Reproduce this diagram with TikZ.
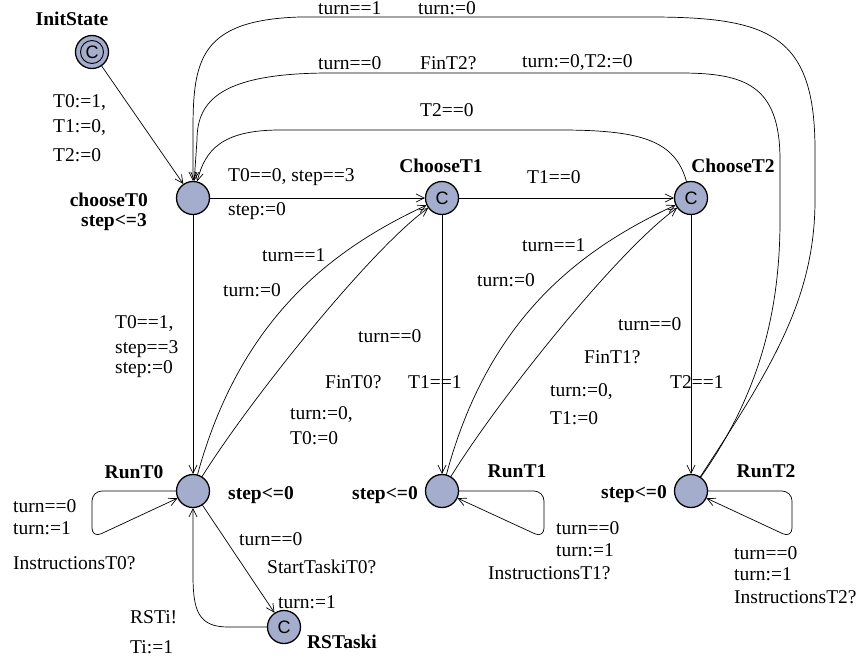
\documentclass[tikz,border=0pt]{standalone}
\usepackage{fontspec}
\setmainfont{Liberation Serif}
\setsansfont{Liberation Sans}
\usepackage{tikz}
\usetikzlibrary{arrows.meta}
\definecolor{uaFill}{HTML}{A5ADCD}
\definecolor{uaInk}{HTML}{000000}
\tikzset{
  ua diagram/.style={x=1pt, y=-1pt, draw=uaInk, text=uaInk,
    font=\fontsize{19.5}{22}\selectfont, line cap=round, line join=round},
  ua state/.style={circle, draw=uaInk, fill=uaFill, line width=1.3pt,
    minimum size=33pt, inner sep=0pt},
  ua committed/.style={ua state, font=\sffamily\fontsize{18}{18}\selectfont},
  ua edge/.style={-{Straight Barb[length=8pt,width=8pt]}, draw=uaInk, line width=0.7pt},
  ua name/.style={font=\fontsize{19.5}{22}\selectfont\bfseries, inner sep=0pt},
  ua label/.style={anchor=west, inner sep=0pt}
}
\begin{document}
\begin{tikzpicture}[ua diagram]
\useasboundingbox (0,0) rectangle (861,661);
% locations
\node[ua committed] (InitState) at (92,52) {C};
\draw[line width=0.9pt] (InitState.center) circle (11.5pt);
\node[ua state] (chooseT0) at (193,198) {};
\node[ua committed] (ChooseT1) at (442,198) {C};
\node[ua committed] (ChooseT2) at (691,198) {C};
\node[ua state] (RunT0) at (193,491) {};
\node[ua state] (RunT1) at (442,491) {};
\node[ua state] (RunT2) at (691,491) {};
\node[ua committed] (RSTaski) at (284,627) {C};
% names and invariants
\node[ua name] (InitStateName) at (72,19) {InitState};
\node[ua name,anchor=east] (chooseT0Name) at (148,200) {chooseT0};
\node[ua name,anchor=east] (chooseT0Inv) at (147,222) {step<=3};
\node[ua name] (ChooseT1Name) at (441,166) {ChooseT1};
\node[ua name] (ChooseT2Name) at (733,166) {ChooseT2};
\node[ua name] (RunT0Name) at (134,472) {RunT0};
\node[ua name] (RunT1Name) at (517,471) {RunT1};
\node[ua name] (RunT2Name) at (766,471) {RunT2};
\node[ua name] (RunT0Inv) at (261,495) {step<=0};
\node[ua name] (RunT1Inv) at (385,495) {step<=0};
\node[ua name] (RunT2Inv) at (634,494) {step<=0};
\node[ua name] (RSTaskiName) at (342,642) {RSTaski};
% straight edges
\draw[ua edge] (InitState) -- (chooseT0);
\draw[ua edge] (chooseT0) -- (ChooseT1);
\draw[ua edge] (ChooseT1) -- (ChooseT2);
\draw[ua edge] (chooseT0) -- (RunT0);
\draw[ua edge] (ChooseT1) -- (RunT1);
\draw[ua edge] (ChooseT2) -- (RunT2);
\draw[ua edge] (RunT0) -- (RSTaski);
\draw[ua edge] (RSTaski.west) -- (228,627) .. controls (198,627) and (193,610) .. (193,575) -- (RunT0);
% back to chooseT0 over the top
\draw[ua edge] (RunT2) .. controls (770,370) and (815,300) .. (815,200)
  -- (815,150) .. controls (815,35) and (770,17) .. (650,17)
  -- (300,17) .. controls (200,20) and (193,60) .. (193,130) -- (chooseT0);
\draw[ua edge] (RunT2) .. controls (755,400) and (780,320) .. (780,220)
  -- (780,160) .. controls (780,85) and (745,73) .. (680,73)
  -- (330,73) .. controls (222,73) and (197,100) .. (197,140) -- (chooseT0);
\draw[ua edge] (ChooseT2) .. controls (675,140) and (640,130) .. (560,130)
  -- (280,130) .. controls (222,130) and (205,150) .. (chooseT0);
% run -> next choose
\foreach \run/\choose/\dx in {RunT0/ChooseT1/0,RunT1/ChooseT2/248}{
  \begin{scope}[xshift=\dx]
  \draw[ua edge] (\run) .. controls (240,320) and (330,250) .. (\choose);
  \draw[ua edge] (\run) .. controls (250,400) and (370,250) .. (\choose);
  \end{scope}
}
% self loops
\draw[ua edge,rounded corners=10pt] (RunT0.west) -- (92,491) -- (92,538) -- (RunT0);
\draw[ua edge,rounded corners=10pt] (RunT1.east) -- (544,491) -- (544,538) -- (RunT1);
\draw[ua edge,rounded corners=10pt] (RunT2.east) -- (792,491) -- (792,538) -- (RunT2);
% guards, syncs and updates
\foreach \x/\y/\txt [count=\i] in {
  53/103/{T0:=1,}, 53/128/{T1:=0,}, 53/155/{T2:=0},
  318/8/{turn==1}, 418/8/{turn:=0},
  318/63/{turn==0}, 420/63/{FinT2?}, 522/63/{turn:=0,T2:=0},
  420/110/{T2==0},
  228/177/{T0==0, step==3}, 228/211/{step:=0}, 527/177/{T1==0},
  115/324/{T0==1,}, 115/349/{step==3}, 115/369/{step:=0},
  262/255/{turn==1}, 223/290/{turn:=0},
  358/336/{turn==0}, 325/382/{FinT0?}, 290/415/{turn:=0,}, 290/438/{T0:=0},
  408/382/{T1==1},
  522/245/{turn==1}, 477/280/{turn:=0},
  618/324/{turn==0}, 584/357/{FinT1?}, 550/392/{turn:=0,}, 550/418/{T1:=0},
  670/382/{T2==1},
  13/506/{turn==0}, 13/528/{turn:=1}, 13/563/{InstructionsT0?},
  239/539/{turn==0}, 267/567/{StartTaskiT0?}, 278/602/{turn:=1},
  130/617/{RSTi!}, 130/647/{Ti:=1},
  556/528/{turn==0}, 556/550/{turn:=1}, 488/573/{InstructionsT1?},
  734/553/{turn==0}, 734/574/{turn:=1}, 734/597/{InstructionsT2?}}
  \node[ua label] (lbl\i) at (\x,\y) {\txt};
\end{tikzpicture}
\end{document}
